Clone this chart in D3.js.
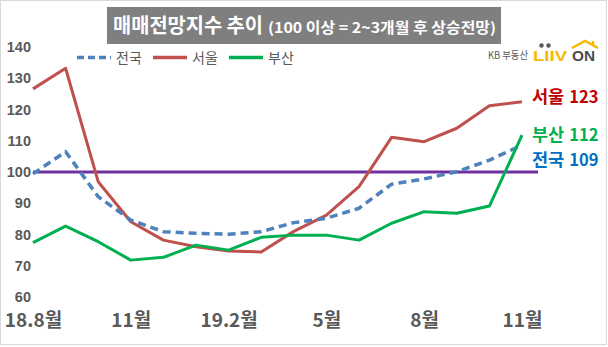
<!DOCTYPE html>
<html><head><meta charset="utf-8">
<script src="https://cdn.jsdelivr.net/npm/d3@7"></script>
<style>body{margin:0;background:#fff}svg{display:block}text{font-family:"Noto Sans CJK KR","Noto Sans",sans-serif}</style>
</head><body><svg id="c" width="608" height="347"></svg>
<script>
const months = ["18.8","18.9","18.10","18.11","18.12","19.1","19.2","19.3","19.4","19.5","19.6","19.7","19.8","19.9","19.10","19.11"];
const national = [99.4,106.5,92.1,84.6,80.9,80.4,80.1,80.9,83.8,85.2,88.4,96.1,97.8,100.1,103.8,108.6];
const seoul = [126.6,133.2,96.9,84.1,78.2,76.1,74.7,74.4,81.0,86.2,95.3,111.1,109.7,114.0,121.2,122.5];
const busan = [77.4,82.7,77.7,71.8,72.7,76.6,75.0,79.1,79.8,79.8,78.2,83.6,87.3,86.8,89.1,111.8];
const yTicks = [60,70,80,90,100,110,120,130,140];
const xTickIdx = [0,3,6,9,12,15];
const xTickLabels = ["18.8월","11월","19.2월","5월","8월","11월"];
const seriesNames = ["전국","서울","부산"];
const endLabels = [{name:"서울",val:"123"},{name:"부산",val:"112"},{name:"전국",val:"109"}];
const baseline = 100;

const svg = d3.select("#c");
svg.append("rect").attr("x",0.5).attr("y",0.5).attr("width",606).attr("height",344)
  .attr("fill","#fff").attr("stroke","#D9D9D9");

const x = d3.scaleLinear().domain([0, months.length-1]).range([33, 522]);
const y = d3.scaleLinear().domain([60,140]).range([297, 47]);

// y axis labels
const ya = svg.append("g").attr("transform","translate(31,0)")
  .call(d3.axisLeft(y).tickValues(yTicks).tickSize(0).tickPadding(0));
ya.select(".domain").remove();
ya.selectAll("text").attr("fill","#595959").style("font-size","14.5px").style("font-weight","bold")
  .style("font-family","'Liberation Sans',Arial,sans-serif");

// x labels
const xa = svg.append("g").attr("transform","translate(0,313)")
  .call(d3.axisBottom(x).tickValues(xTickIdx).tickSize(0).tickPadding(0)
    .tickFormat(i=>xTickLabels[xTickIdx.indexOf(i)]));
xa.select(".domain").remove();
xa.selectAll("text").attr("fill","#595959").style("font-size","19px").style("font-weight","bold").attr("dy","0.71em");

// baseline
svg.append("line").attr("x1",x(0)).attr("x2",538).attr("y1",y(baseline)).attr("y2",y(baseline))
  .attr("stroke","#7030A0").attr("stroke-width",3);

const line = d3.line().x((d,i)=>x(i)).y(d=>y(d));
const styles = [
  {data:national,color:"#4F81BD",dash:"8,5",w:3.5},
  {data:seoul,color:"#C0504D",dash:null,w:3},
  {data:busan,color:"#00B050",dash:null,w:3}
];
[1,0,2].forEach(k=>{
  const s=styles[k];
  svg.append("path").datum(s.data).attr("d",line).attr("fill","none")
    .attr("stroke",s.color).attr("stroke-width",s.w).attr("stroke-dasharray",s.dash)
    .attr("stroke-linejoin","round");
});

// legend
const lg = svg.append("g");
const legX = [77,153,229];
seriesNames.forEach((n,i)=>{
  const s=styles[i];
  lg.append("line").attr("x1",legX[i]).attr("x2",legX[i]+34).attr("y1",57.5).attr("y2",57.5)
    .attr("stroke",s.color).attr("stroke-width",3.5).attr("stroke-dasharray",s.dash?"7,4":null);
  lg.append("text").attr("x",legX[i]+39).attr("y",57.5).attr("dy","0.36em")
    .attr("fill","#595959").style("font-size","14px").text(n);
});

// title
svg.append("rect").attr("x",107).attr("y",7).attr("width",394).attr("height",37).attr("fill","#7F7F7F");
svg.append("text").attr("x",113).attr("y",33).attr("fill","#fff").style("font-weight","bold")
  .style("font-size","20px").attr("textLength",150).attr("lengthAdjust","spacingAndGlyphs").text("매매전망지수 추이");
svg.append("text").attr("x",268).attr("y",33).attr("fill","#fff").style("font-weight","bold")
  .style("font-size","14.5px").attr("textLength",228).attr("lengthAdjust","spacingAndGlyphs").text("(100 이상 = 2~3개월 후 상승전망)");

// logo
svg.append("text").attr("x",488).attr("y",59).attr("fill","#595959").style("font-size","10.5px")
  .attr("textLength",40).attr("lengthAdjust","spacingAndGlyphs").text("KB 부동산");
svg.append("text").attr("x",533).attr("y",61).attr("fill","#F5B800").style("font-size","14px").style("font-weight","bold")
  .style("font-family","'Liberation Sans',Arial,sans-serif").attr("textLength",34).attr("lengthAdjust","spacingAndGlyphs").text("LIIV");
svg.append("text").attr("x",572).attr("y",61).attr("fill","#4D4D4D").style("font-size","14px").style("font-weight","bold")
  .style("font-family","'Liberation Sans',Arial,sans-serif").attr("textLength",23).attr("lengthAdjust","spacingAndGlyphs").text("ON");
svg.append("circle").attr("cx",541.5).attr("cy",45.5).attr("r",2.2).attr("fill","#595959");
svg.append("circle").attr("cx",548.5).attr("cy",45.5).attr("r",2.2).attr("fill","#595959");
svg.append("path").attr("d","M572,48 L585,41 L598,48 M593,45 L593,41").attr("fill","none")
  .attr("stroke","#F5B800").attr("stroke-width",2.5);

// end labels
const endCol = ["#C00000","#00B050","#0070C0"];
const endY = [97,135,160];
endLabels.forEach((e,i)=>{
  const t = svg.append("text").attr("x",532).attr("y",endY[i]).attr("dy","0.36em").style("font-weight","bold");
  t.append("tspan").attr("fill",endCol[i]).style("font-size","17.5px").text(e.name);
  t.append("tspan").attr("fill",endCol[i]).style("font-size","16.5px").attr("dx",5).text(e.val);
});
</script></body></html>
